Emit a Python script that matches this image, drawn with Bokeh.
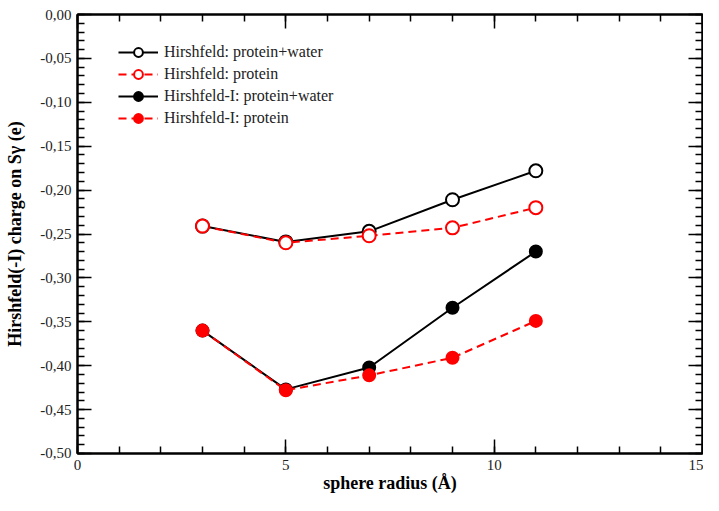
from bokeh.plotting import figure
from bokeh.models import (Range1d, LinearAxis, SingleIntervalTicker,
                          CustomJSTickFormatter, Legend, LegendItem)
from bokeh.embed import file_html
from bokeh.resources import INLINE

# ---- data ----
radius = [3, 5, 7, 9, 11]
hirsh_pw = [-0.241, -0.259, -0.247, -0.211, -0.178]
hirsh_p = [-0.241, -0.260, -0.252, -0.243, -0.220]
hirshI_pw = [-0.360, -0.427, -0.402, -0.334, -0.270]
hirshI_p = [-0.360, -0.428, -0.411, -0.391, -0.349]

labels = ["Hirshfeld: protein+water", "Hirshfeld: protein",
          "Hirshfeld-I: protein+water", "Hirshfeld-I: protein"]

x_title = "sphere radius (Å)"
y_title = "Hirshfeld(-I) charge on Sγ (e)"

FONT = "Liberation Serif"

p = figure(width=703, height=495,
           x_range=Range1d(0, 15), y_range=Range1d(-0.50001, 0.00001),
           output_backend="svg", toolbar_location=None,
           min_border_left=77, min_border_right=1, min_border_top=14,
           min_border_bottom=0)
p.xgrid.visible = False
p.ygrid.visible = False
p.outline_line_color = "black"
p.outline_line_width = 2
p.background_fill_color = "white"
p.border_fill_color = "white"

xtick = SingleIntervalTicker(interval=5, num_minor_ticks=5)
ytick = SingleIntervalTicker(interval=0.05, num_minor_ticks=5)

def style_axis(ax, show_labels):
    ax.axis_line_color = "black"
    ax.axis_line_width = 2
    ax.major_tick_line_color = "black"
    ax.minor_tick_line_color = "black"
    ax.major_tick_line_width = 1.5
    ax.minor_tick_line_width = 1.5
    ax.major_tick_in = 14
    ax.major_tick_out = 0
    ax.minor_tick_in = 7
    ax.minor_tick_out = 0
    ax.major_label_text_font = FONT
    ax.major_label_text_color = "#222222"
    if show_labels:
        ax.major_label_text_font_size = "15px"
        ax.major_label_standoff = 6
    else:
        ax.major_label_text_font_size = "0px"
        ax.major_label_standoff = 0
        ax.formatter = CustomJSTickFormatter(code="return '';")

xa = p.xaxis[0]
xa.ticker = xtick
style_axis(xa, True)
xa.axis_label = x_title
xa.axis_label_text_font = FONT
xa.axis_label_text_font_style = "bold"
xa.axis_label_text_font_size = "18px"
xa.axis_label_text_color = "black"
xa.axis_label_standoff = 0

ya = p.yaxis[0]
ya.ticker = ytick
style_axis(ya, True)
ya.formatter = CustomJSTickFormatter(code="return tick.toFixed(2).replace('.', ',');")
ya.axis_label = y_title
ya.axis_label_text_font = FONT
ya.axis_label_text_font_style = "bold"
ya.axis_label_text_font_size = "18px"
ya.axis_label_text_color = "black"
ya.axis_label_standoff = 12

top = LinearAxis(ticker=xtick)
style_axis(top, False)
p.add_layout(top, "above")
right = LinearAxis(ticker=ytick)
style_axis(right, False)
p.add_layout(right, "right")

series = [
    (hirsh_pw, "black", "white", "solid", 13),
    (hirsh_p, "red", "white", "8 5", 13),
    (hirshI_pw, "black", "black", "solid", 12),
    (hirshI_p, "red", "red", "8 5", 12),
]

items = []
for (vals, col, fill, dash, size), lab in zip(series, labels):
    ln = p.line(radius, vals, line_color=col, line_width=2, line_dash=dash)
    sc = p.scatter(radius, vals, marker="circle", size=size, line_color=col,
                   line_width=2, fill_color=fill)
    items.append(LegendItem(label=lab, renderers=[ln, sc]))

legend = Legend(items=items, location=(39, 322))
legend.label_text_font = FONT
legend.label_text_font_size = "16px"
legend.label_text_color = "#222222"
legend.label_height = 22
legend.glyph_height = 22
legend.glyph_width = 40
legend.label_standoff = 6
legend.spacing = 0
legend.padding = 2
legend.margin = 0
legend.border_line_alpha = 0
legend.background_fill_alpha = 0
p.add_layout(legend, "center")

open("out.html", "w").write(file_html(p, INLINE))
